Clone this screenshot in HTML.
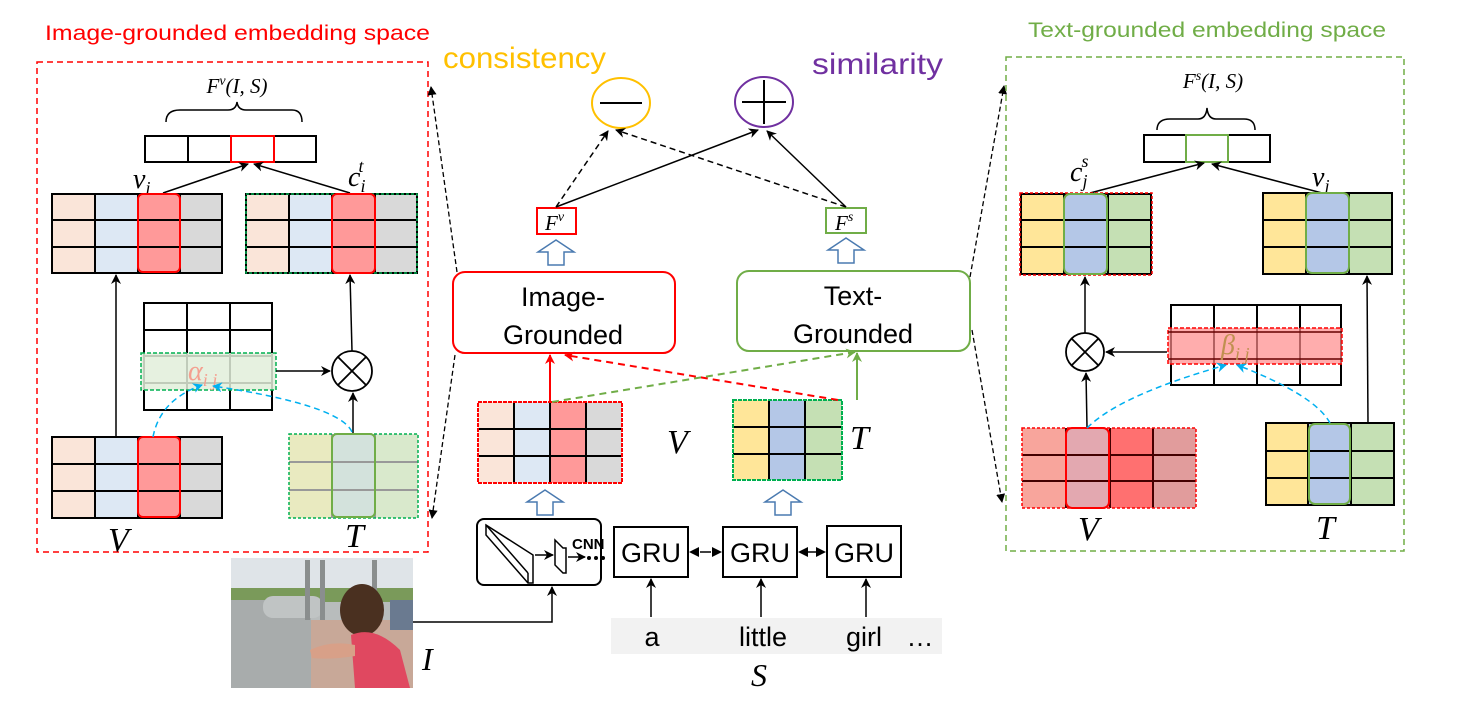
<!DOCTYPE html>
<html><head><meta charset="utf-8"><style>
html,body{margin:0;padding:0;background:#fff;}
svg{display:block;}
.m{font-family:"Liberation Serif",serif;font-style:italic;}
.s{font-family:"Liberation Sans",sans-serif;}
</style></head><body>
<svg width="1458" height="707" viewBox="0 0 1458 707" xmlns="http://www.w3.org/2000/svg">
<defs>
<marker id="ak" markerWidth="10" markerHeight="10" refX="9" refY="5" orient="auto" markerUnits="userSpaceOnUse"><path d="M0,0 L10,5 L0,10 L3,5 Z" fill="#000"/></marker>
<marker id="ar" markerWidth="10" markerHeight="10" refX="9" refY="5" orient="auto" markerUnits="userSpaceOnUse"><path d="M0,0 L10,5 L0,10 L3,5 Z" fill="#f00"/></marker>
<marker id="ag" markerWidth="10" markerHeight="10" refX="9" refY="5" orient="auto" markerUnits="userSpaceOnUse"><path d="M0,0 L10,5 L0,10 L3,5 Z" fill="#70ad47"/></marker>
<marker id="ac" markerWidth="10" markerHeight="10" refX="9" refY="5" orient="auto" markerUnits="userSpaceOnUse"><path d="M0,0 L10,5 L0,10 L3,5 Z" fill="#00b0f0"/></marker>
<marker id="ad" markerWidth="9" markerHeight="9" refX="8" refY="4.5" orient="auto" markerUnits="userSpaceOnUse"><path d="M0,0 L9,4.5 L0,9 Z" fill="#000"/></marker>
</defs>

<text x="45" y="40" class="s" font-size="21" fill="#f00" textLength="385" lengthAdjust="spacingAndGlyphs">Image-grounded embedding space</text>
<text x="1028" y="37" class="s" font-size="21" fill="#70ad47" textLength="358" lengthAdjust="spacingAndGlyphs">Text-grounded embedding space</text>

<!-- LEFT PANEL -->
<rect x="37" y="62" width="391" height="490" fill="none" stroke="#f00" stroke-width="1.5" stroke-dasharray="6,4"/>
<text x="237" y="93" class="m" font-size="21" text-anchor="middle">F<tspan font-size="14" dy="-8">v</tspan><tspan dy="8">(I, S)</tspan></text>
<path d="M166,122 Q166,110 180,110 L228,110 Q236,110 237,102 Q238,110 246,110 L292,110 Q302,110 302,122" fill="none" stroke="#000" stroke-width="1.5"/>
<g stroke="#000" stroke-width="2" fill="#fff">
<rect x="145" y="136" width="171" height="26"/>
<line x1="188" y1="136" x2="188" y2="162"/><line x1="274" y1="136" x2="274" y2="162"/>
</g>
<rect x="231" y="136" width="43" height="26" fill="none" stroke="#f00" stroke-width="2"/>
<text x="133" y="188" class="m" font-size="28">v<tspan font-size="18" dy="6">i</tspan></text>
<text x="348" y="186" class="m" font-size="28">c<tspan font-size="18" dy="6">i</tspan><tspan font-size="18" dx="-7" dy="-20">t</tspan></text>
<line x1="163" y1="193" x2="248" y2="164" stroke="#000" stroke-width="1.5" marker-end="url(#ak)"/>
<line x1="350" y1="193" x2="254" y2="164" stroke="#000" stroke-width="1.5" marker-end="url(#ak)"/>

<g>
<rect x="52" y="194" width="43" height="79" fill="#fae5d9"/><rect x="95" y="194" width="43" height="79" fill="#dde8f4"/><rect x="138" y="194" width="42" height="79" fill="#ff9999"/><rect x="180" y="194" width="42" height="79" fill="#d9d9d9"/>
<g stroke="#000" stroke-width="2" fill="none"><rect x="52" y="194" width="170" height="79"/><line x1="52" y1="220" x2="222" y2="220"/><line x1="52" y1="247" x2="222" y2="247"/><line x1="95" y1="194" x2="95" y2="273"/><line x1="138" y1="194" x2="138" y2="273"/><line x1="180" y1="194" x2="180" y2="273"/></g>
<rect x="138" y="194" width="42" height="78" rx="5" fill="none" stroke="#f00" stroke-width="2"/>
</g>
<g>
<rect x="246" y="194" width="43" height="79" fill="#fae5d9"/><rect x="289" y="194" width="43" height="79" fill="#dde8f4"/><rect x="332" y="194" width="43" height="79" fill="#ff9999"/><rect x="375" y="194" width="42" height="79" fill="#d9d9d9"/>
<g stroke="#000" stroke-width="2" fill="none"><rect x="246" y="194" width="171" height="79"/><line x1="246" y1="220" x2="417" y2="220"/><line x1="246" y1="247" x2="417" y2="247"/><line x1="289" y1="194" x2="289" y2="273"/><line x1="332" y1="194" x2="332" y2="273"/><line x1="375" y1="194" x2="375" y2="273"/></g>
<rect x="246" y="194" width="171" height="79" fill="none" stroke="#00b050" stroke-width="1.5" stroke-dasharray="3,2"/>
<rect x="332" y="194" width="43" height="79" rx="5" fill="none" stroke="#f00" stroke-width="2"/>
</g>
<g stroke="#000" stroke-width="2" fill="#fff">
<rect x="144" y="303" width="128" height="107"/>
<line x1="144" y1="330" x2="272" y2="330"/><line x1="144" y1="356" x2="272" y2="356"/><line x1="144" y1="383" x2="272" y2="383"/>
<line x1="187" y1="303" x2="187" y2="410"/><line x1="230" y1="303" x2="230" y2="410"/>
</g>
<rect x="141" y="353" width="135" height="37" fill="#e2efda" fill-opacity="0.85" stroke="#00b050" stroke-width="1.5" stroke-dasharray="4,2"/>
<text x="188" y="380" class="m" font-size="28" fill="#f4a090">α<tspan font-size="18" dy="6">i j</tspan></text>
<line x1="276" y1="371" x2="330" y2="371" stroke="#000" stroke-width="1.5" marker-end="url(#ak)"/>
<g stroke="#000" stroke-width="1.8" fill="#fff"><circle cx="352" cy="371" r="20"/><line x1="338" y1="357" x2="366" y2="385"/><line x1="366" y1="357" x2="338" y2="385"/></g>
<line x1="352" y1="351" x2="350" y2="275" stroke="#000" stroke-width="1.5" marker-end="url(#ak)"/>
<line x1="353" y1="434" x2="353" y2="393" stroke="#000" stroke-width="1.5" marker-end="url(#ak)"/>
<line x1="116" y1="437" x2="116" y2="275" stroke="#000" stroke-width="1.5" marker-end="url(#ak)"/>
<g>
<rect x="52" y="437" width="43" height="81" fill="#fae5d9"/><rect x="95" y="437" width="43" height="81" fill="#dde8f4"/><rect x="138" y="437" width="42" height="81" fill="#ff9999"/><rect x="180" y="437" width="42" height="81" fill="#d9d9d9"/>
<g stroke="#000" stroke-width="2" fill="none"><rect x="52" y="437" width="170" height="81"/><line x1="52" y1="464" x2="222" y2="464"/><line x1="52" y1="491" x2="222" y2="491"/><line x1="95" y1="437" x2="95" y2="518"/><line x1="138" y1="437" x2="138" y2="518"/><line x1="180" y1="437" x2="180" y2="518"/></g>
<rect x="138" y="437" width="42" height="80" rx="5" fill="none" stroke="#f00" stroke-width="2"/>
</g>
<g>
<rect x="289" y="434" width="43" height="84" fill="#e9eac0"/><rect x="332" y="434" width="43" height="84" fill="#d3e2dc"/><rect x="375" y="434" width="43" height="84" fill="#d9e9cc"/>
<g stroke="#999" stroke-width="2" fill="none"><line x1="289" y1="462" x2="418" y2="462"/><line x1="289" y1="490" x2="418" y2="490"/><line x1="332" y1="434" x2="332" y2="518"/><line x1="375" y1="434" x2="375" y2="518"/></g>
<rect x="289" y="434" width="129" height="84" fill="none" stroke="#00b050" stroke-width="1.5" stroke-dasharray="3,2"/>
<rect x="332" y="434" width="43" height="83" rx="5" fill="none" stroke="#70ad47" stroke-width="2"/>
</g>
<text x="108" y="551" class="m" font-size="34">V</text>
<text x="345" y="547" class="m" font-size="34">T</text>
<path d="M153,437 Q160,400 202,385" fill="none" stroke="#00b0f0" stroke-width="1.5" stroke-dasharray="6,4" marker-end="url(#ac)"/>
<path d="M352,432 Q340,405 213,386" fill="none" stroke="#00b0f0" stroke-width="1.5" stroke-dasharray="6,4" marker-end="url(#ac)"/>

<g stroke="#000" stroke-width="1.3" stroke-dasharray="5,3" fill="none">
<line x1="457" y1="272" x2="431" y2="87" marker-end="url(#ad)"/>
<line x1="455" y1="355" x2="432" y2="518" marker-end="url(#ad)"/>
<line x1="970" y1="277" x2="1004" y2="86" marker-end="url(#ad)"/>
<line x1="972" y1="330" x2="1002" y2="502" marker-end="url(#ad)"/>
</g>

<!-- CENTER TOP -->
<text x="443" y="68" class="s" font-size="30" fill="#ffc000" textLength="163" lengthAdjust="spacingAndGlyphs">consistency</text>
<text x="812" y="74" class="s" font-size="30" fill="#7030a0" textLength="131" lengthAdjust="spacingAndGlyphs">similarity</text>
<ellipse cx="621" cy="103" rx="29" ry="25" fill="none" stroke="#ffc000" stroke-width="2"/>
<line x1="600" y1="103" x2="642" y2="103" stroke="#000" stroke-width="2"/>
<ellipse cx="764" cy="102" rx="29" ry="25" fill="none" stroke="#7030a0" stroke-width="2"/>
<line x1="742" y1="102" x2="786" y2="102" stroke="#000" stroke-width="2"/><line x1="764" y1="80" x2="764" y2="124" stroke="#000" stroke-width="2"/>
<rect x="537" y="208" width="39" height="26" fill="#fff" stroke="#f00" stroke-width="2"/>
<text x="545" y="230" class="m" font-size="21">F<tspan font-size="14" dy="-9">v</tspan></text>
<rect x="826" y="208" width="40" height="25" fill="#fff" stroke="#70ad47" stroke-width="2"/>
<text x="835" y="230" class="m" font-size="21">F<tspan font-size="14" dy="-9">s</tspan></text>
<line x1="556" y1="207" x2="608" y2="131" stroke="#000" stroke-width="1.5" stroke-dasharray="6,4" marker-end="url(#ak)"/>
<line x1="556" y1="207" x2="758" y2="130" stroke="#000" stroke-width="1.5" marker-end="url(#ak)"/>
<line x1="846" y1="207" x2="616" y2="130" stroke="#000" stroke-width="1.5" stroke-dasharray="6,4" marker-end="url(#ak)"/>
<line x1="846" y1="207" x2="767" y2="131" stroke="#000" stroke-width="1.5" marker-end="url(#ak)"/>
<g fill="#fff" stroke="#4a7ab0" stroke-width="1.5">
<path d="M548,265 L548,252 L538,252 L556,240 L574,252 L564,252 L564,265 Z"/>
<path d="M838,263 L838,250 L828,250 L846,238 L864,250 L854,250 L854,263 Z"/>
<path d="M537,515 L537,502 L527,502 L545,490 L563,502 L553,502 L553,515 Z"/>
<path d="M775,515 L775,502 L765,502 L783,490 L801,502 L791,502 L791,515 Z"/>
</g>
<rect x="453" y="272" width="222" height="81" rx="12" fill="#fff" stroke="#f00" stroke-width="2"/>
<text x="563" y="306" class="s" font-size="27" text-anchor="middle">Image-</text>
<text x="563" y="344" class="s" font-size="27" text-anchor="middle">Grounded</text>
<rect x="737" y="271" width="233" height="80" rx="12" fill="#fff" stroke="#70ad47" stroke-width="2"/>
<text x="853" y="305" class="s" font-size="27" text-anchor="middle">Text-</text>
<text x="853" y="343" class="s" font-size="27" text-anchor="middle">Grounded</text>
<g>
<rect x="478" y="402" width="36" height="81" fill="#fae5d9"/><rect x="514" y="402" width="36" height="81" fill="#dde8f4"/><rect x="550" y="402" width="36" height="81" fill="#ff9999"/><rect x="586" y="402" width="36" height="81" fill="#d9d9d9"/>
<g stroke="#000" stroke-width="2" fill="none"><line x1="478" y1="429" x2="622" y2="429"/><line x1="478" y1="456" x2="622" y2="456"/><line x1="514" y1="402" x2="514" y2="483"/><line x1="550" y1="402" x2="550" y2="483"/><line x1="586" y1="402" x2="586" y2="483"/></g>
<rect x="478" y="402" width="144" height="81" fill="none" stroke="#f00" stroke-width="2" stroke-dasharray="4,1"/>
</g>
<text x="667" y="453" class="m" font-size="34">V</text>
<g>
<rect x="733" y="400" width="36" height="80" fill="#ffe699"/><rect x="769" y="400" width="36" height="80" fill="#b4c7e7"/><rect x="805" y="400" width="37" height="80" fill="#c5e0b4"/>
<g stroke="#000" stroke-width="2" fill="none"><line x1="733" y1="427" x2="842" y2="427"/><line x1="733" y1="454" x2="842" y2="454"/><line x1="769" y1="400" x2="769" y2="480"/><line x1="805" y1="400" x2="805" y2="480"/></g>
<rect x="733" y="400" width="109" height="80" fill="none" stroke="#00b050" stroke-width="2" stroke-dasharray="4,1"/>
</g>
<text x="850" y="449" class="m" font-size="34">T</text>
<line x1="550" y1="402" x2="550" y2="355" stroke="#f00" stroke-width="2" marker-end="url(#ar)"/>
<line x1="838" y1="400" x2="565" y2="355" stroke="#f00" stroke-width="2" stroke-dasharray="7,5" marker-end="url(#ar)"/>
<line x1="552" y1="402" x2="855" y2="352" stroke="#70ad47" stroke-width="2" stroke-dasharray="7,5" marker-end="url(#ag)"/>
<line x1="857" y1="400" x2="857" y2="353" stroke="#70ad47" stroke-width="2" marker-end="url(#ag)"/>
<!-- CNN -->
<rect x="477" y="519" width="124" height="66" rx="7" fill="#fff" stroke="#000" stroke-width="2"/>
<path d="M486,525 L486,535 L528,583 L533,583 L533,555 Z" fill="#fff" stroke="#000" stroke-width="1.5"/>
<line x1="486" y1="525" x2="528" y2="573" stroke="#000" stroke-width="1.5"/><line x1="528" y1="573" x2="528" y2="583" stroke="#000" stroke-width="1.5"/>
<path d="M555,540 L563,548 L566,548 L566,573 L563,573 L555,565 Z" fill="#fff" stroke="#000" stroke-width="1.5"/>
<line x1="535" y1="555" x2="553" y2="555" stroke="#000" stroke-width="1.5" marker-end="url(#ak)"/>
<line x1="568" y1="557" x2="585" y2="557" stroke="#000" stroke-width="1.5" marker-end="url(#ak)"/>
<text x="572" y="549" class="s" font-size="15" font-weight="bold">CNN</text>
<circle cx="589" cy="558" r="2" fill="#000"/><circle cx="596" cy="558" r="2" fill="#000"/><circle cx="603" cy="558" r="2" fill="#000"/>
<g fill="#fff" stroke="#000" stroke-width="2"><rect x="614" y="527" width="74" height="50"/><rect x="723" y="527" width="74" height="50"/><rect x="827" y="526" width="74" height="51"/></g>
<g class="s" font-size="27" text-anchor="middle"><text x="651" y="562">GRU</text><text x="760" y="562">GRU</text><text x="864" y="562">GRU</text></g>
<line x1="700" y1="552" x2="711" y2="552" stroke="#000" stroke-width="1.5"/>
<path d="M689,552 L699,547 L699,557 Z M722,552 L712,547 L712,557 Z M798,552 L808,547 L808,557 Z M826,552 L816,547 L816,557 Z" fill="#000"/>
<line x1="806" y1="552" x2="818" y2="552" stroke="#000" stroke-width="1.5"/>
<rect x="611" y="618" width="331" height="36" fill="#f2f2f2"/>
<g class="s" font-size="27" text-anchor="middle"><text x="652" y="646">a</text><text x="763" y="646">little</text><text x="864" y="646">girl</text><text x="920" y="646">…</text></g>
<text x="751" y="686" class="m" font-size="32">S</text>
<g stroke="#000" stroke-width="1.5"><line x1="651" y1="617" x2="651" y2="579" marker-end="url(#ak)"/><line x1="761" y1="617" x2="761" y2="579" marker-end="url(#ak)"/><line x1="866" y1="617" x2="866" y2="579" marker-end="url(#ak)"/></g>
<polyline points="413,622 552,622 552,587" fill="none" stroke="#000" stroke-width="1.5" marker-end="url(#ak)"/>
<!-- photo -->
<g>
<rect x="231" y="558" width="182" height="130" fill="#b8bcbc"/>
<rect x="231" y="558" width="182" height="32" fill="#dfe4e8"/>
<rect x="231" y="588" width="182" height="14" fill="#7a9a5a"/>
<rect x="300" y="620" width="113" height="68" fill="#c8a898"/>
<rect x="231" y="600" width="80" height="88" fill="#a8acac"/>
<rect x="263" y="596" width="60" height="22" rx="10" fill="#c0c4c4"/>
<rect x="305" y="560" width="5" height="60" fill="#8a8e8e"/><rect x="320" y="560" width="5" height="60" fill="#8a8e8e"/><rect x="372" y="560" width="5" height="50" fill="#8a8e8e"/>
<ellipse cx="362" cy="610" rx="22" ry="26" fill="#4a3020"/>
<path d="M351,635 Q375,625 400,650 L410,688 L355,688 Z" fill="#e04860"/>
<path d="M310,650 Q330,640 355,645 L355,656 Q330,660 312,658 Z" fill="#d8a088"/>
<rect x="390" y="600" width="23" height="30" fill="#6a7a90"/>
</g>
<text x="422" y="670" class="m" font-size="32">I</text>

<!-- RIGHT PANEL -->
<rect x="1006" y="57" width="398" height="494" fill="none" stroke="#70ad47" stroke-width="1.5" stroke-dasharray="6,4"/>
<text x="1213" y="88" class="m" font-size="21" text-anchor="middle">F<tspan font-size="14" dy="-8">s</tspan><tspan dy="8">(I, S)</tspan></text>
<path d="M1157,130 Q1157,119 1170,119 L1198,119 Q1206,119 1207,108 Q1208,119 1216,119 L1244,119 Q1255,119 1255,130" fill="none" stroke="#000" stroke-width="1.5"/>
<g stroke="#000" stroke-width="2" fill="#fff"><rect x="1144" y="135" width="126" height="27"/></g>
<rect x="1186" y="135" width="42" height="27" fill="none" stroke="#70ad47" stroke-width="2"/>
<text x="1070" y="181" class="m" font-size="28">c<tspan font-size="18" dy="6">j</tspan><tspan font-size="18" dx="-6" dy="-20">s</tspan></text>
<text x="1312" y="186" class="m" font-size="28">v<tspan font-size="18" dy="6">j</tspan></text>
<line x1="1090" y1="193" x2="1204" y2="163" stroke="#000" stroke-width="1.5" marker-end="url(#ak)"/>
<line x1="1322" y1="193" x2="1212" y2="164" stroke="#000" stroke-width="1.5" marker-end="url(#ak)"/>
<g>
<rect x="1020" y="193" width="44" height="82" fill="#ffe699"/><rect x="1064" y="193" width="44" height="82" fill="#b4c7e7"/><rect x="1108" y="193" width="44" height="82" fill="#c5e0b4"/>
<g stroke="#000" stroke-width="2" fill="none"><line x1="1020" y1="220" x2="1152" y2="220"/><line x1="1020" y1="247" x2="1152" y2="247"/><line x1="1064" y1="193" x2="1064" y2="275"/><line x1="1108" y1="193" x2="1108" y2="275"/><rect x="1021" y="194" width="130" height="80"/></g>
<rect x="1020" y="193" width="132" height="82" fill="none" stroke="#f00" stroke-width="1.5" stroke-dasharray="3,2"/>
<rect x="1064" y="194" width="43" height="80" rx="6" fill="none" stroke="#70ad47" stroke-width="2"/>
</g>
<g>
<rect x="1263" y="193" width="43" height="81" fill="#ffe699"/><rect x="1306" y="193" width="43" height="81" fill="#b4c7e7"/><rect x="1349" y="193" width="43" height="81" fill="#c5e0b4"/>
<g stroke="#000" stroke-width="2" fill="none"><rect x="1263" y="193" width="129" height="81"/><line x1="1263" y1="220" x2="1392" y2="220"/><line x1="1263" y1="247" x2="1392" y2="247"/><line x1="1306" y1="193" x2="1306" y2="274"/><line x1="1349" y1="193" x2="1349" y2="274"/></g>
<rect x="1306" y="193" width="43" height="80" rx="6" fill="none" stroke="#70ad47" stroke-width="2"/>
</g>
<g stroke="#000" stroke-width="2" fill="#fff">
<rect x="1171" y="305" width="170" height="80"/>
<line x1="1214" y1="305" x2="1214" y2="385"/><line x1="1257" y1="305" x2="1257" y2="385"/><line x1="1300" y1="305" x2="1300" y2="385"/>
</g>
<rect x="1168" y="328" width="174" height="36" fill="#ff8a8a" fill-opacity="0.7" stroke="#f00" stroke-width="1.5" stroke-dasharray="4,2"/>
<line x1="1168" y1="332" x2="1342" y2="332" stroke="#600" stroke-width="1.5"/><line x1="1168" y1="359" x2="1342" y2="359" stroke="#600" stroke-width="1.5"/>
<text x="1221" y="354" class="m" font-size="28" fill="#c09050">β<tspan font-size="18" dy="6">i j</tspan></text>
<line x1="1167" y1="352" x2="1106" y2="352" stroke="#000" stroke-width="1.5" marker-end="url(#ak)"/>
<g stroke="#000" stroke-width="1.8" fill="#fff"><circle cx="1085" cy="352" r="19"/><line x1="1072" y1="339" x2="1098" y2="365"/><line x1="1098" y1="339" x2="1072" y2="365"/></g>
<line x1="1085" y1="333" x2="1085" y2="277" stroke="#000" stroke-width="1.5" marker-end="url(#ak)"/>
<line x1="1087" y1="427" x2="1086" y2="373" stroke="#000" stroke-width="1.5" marker-end="url(#ak)"/>
<line x1="1368" y1="423" x2="1367" y2="276" stroke="#000" stroke-width="1.5" marker-end="url(#ak)"/>
<g>
<rect x="1022" y="428" width="44" height="80" fill="#f8a59c"/><rect x="1066" y="428" width="44" height="80" fill="#e3a8b0"/><rect x="1110" y="428" width="43" height="80" fill="#ff7070"/><rect x="1153" y="428" width="43" height="80" fill="#e19c9c"/>
<g stroke="#400" stroke-width="2" fill="none"><line x1="1022" y1="455" x2="1196" y2="455"/><line x1="1022" y1="481" x2="1196" y2="481"/><line x1="1066" y1="428" x2="1066" y2="508"/><line x1="1110" y1="428" x2="1110" y2="508"/><line x1="1153" y1="428" x2="1153" y2="508"/></g>
<rect x="1022" y="428" width="174" height="80" fill="none" stroke="#f00" stroke-width="1.5" stroke-dasharray="3,2"/>
<rect x="1066" y="428" width="43" height="80" rx="6" fill="none" stroke="#f00" stroke-width="2"/>
</g>
<g>
<rect x="1266" y="423" width="42" height="82" fill="#ffe699"/><rect x="1308" y="423" width="43" height="82" fill="#b4c7e7"/><rect x="1351" y="423" width="43" height="82" fill="#c5e0b4"/>
<g stroke="#000" stroke-width="2" fill="none"><rect x="1266" y="423" width="128" height="82"/><line x1="1266" y1="451" x2="1394" y2="451"/><line x1="1266" y1="478" x2="1394" y2="478"/><line x1="1308" y1="423" x2="1308" y2="505"/><line x1="1351" y1="423" x2="1351" y2="505"/></g>
<rect x="1309" y="424" width="41" height="80" rx="6" fill="none" stroke="#70ad47" stroke-width="2"/>
</g>
<text x="1078" y="540" class="m" font-size="34">V</text>
<text x="1316" y="539" class="m" font-size="34">T</text>
<path d="M1087,428 Q1120,395 1226,365" fill="none" stroke="#00b0f0" stroke-width="1.5" stroke-dasharray="6,4" marker-end="url(#ac)"/>
<path d="M1330,423 Q1315,395 1237,365" fill="none" stroke="#00b0f0" stroke-width="1.5" stroke-dasharray="6,4" marker-end="url(#ac)"/>
</svg>
</body></html>
